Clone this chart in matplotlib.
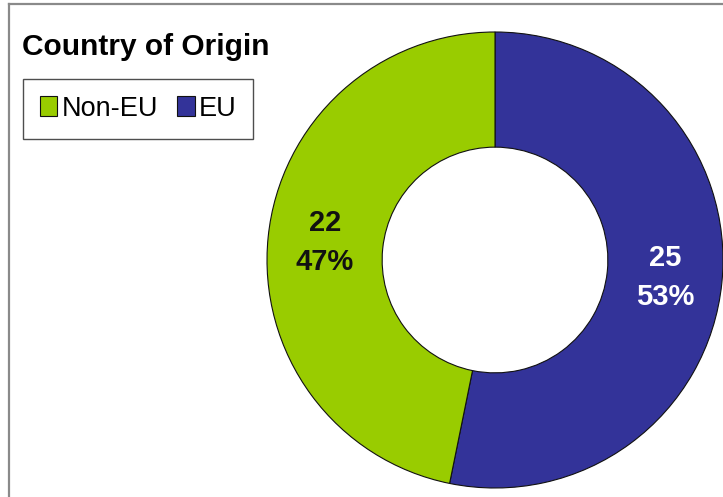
import matplotlib.pyplot as plt
from matplotlib.lines import Line2D

# origin breakdown
labels = ["Non-EU", "EU"]
counts = [22, 25]
colors = ["#99CC00", "#333399"]
label_colors = ["#111111", "white"]

W, H = 723, 497
fig = plt.figure(figsize=(W / 100, H / 100), dpi=100)
fig.patch.set_facecolor("white")

# donut: centre (495, 260) px, outer radius 228 px
cx, cy, R = 495, 260, 228
ax = fig.add_axes([(cx - R) / W, 1 - (cy + R) / H, 2 * R / W, 2 * R / H])

# EU first, clockwise from 12 o'clock; Non-EU fills the rest
order = [1, 0]
total = sum(counts)
wedges, texts, autotexts = ax.pie(
    [counts[i] for i in order],
    colors=[colors[i] for i in order],
    startangle=90,
    counterclock=False,
    radius=1.0,
    pctdistance=0.75,
    autopct=lambda p: "{0}\n{1:.0f}%".format(int(round(p * total / 100.0)), p),
    wedgeprops=dict(width=0.505, edgecolor="#111111", linewidth=0.8),
    textprops=dict(family="Liberation Sans", fontsize=21, fontweight="bold"),
)
for t, i in zip(autotexts, order):
    t.set_color(label_colors[i])
    t.set_linespacing(1.5)
ax.set_xlim(-1, 1)
ax.set_ylim(-1, 1)
ax.set_aspect("equal")
ax.axis("off")
for w in wedges:
    w.set_clip_on(False)

# title and legend
fig.text(22 / W, 1 - 55 / H, "Country of Origin", family="Liberation Sans",
         fontsize=21.5, fontweight="bold", ha="left", va="baseline")

handles = [wedges[order.index(i)] for i in range(len(labels))]
leg = fig.legend(handles, labels, ncol=2, loc="upper left",
                 bbox_to_anchor=(23 / W, 1 - 79 / H), borderaxespad=0,
                 prop=dict(family="Liberation Sans", size=19.5),
                 frameon=True, fancybox=False, edgecolor="#222222",
                 handlelength=0.65, handleheight=0.75, handletextpad=0.15,
                 columnspacing=0.7, borderpad=0.62)
leg.get_frame().set_linewidth(1.0)

# outer frame (top and left edges visible)
fig.add_artist(Line2D([9 / W, 9 / W], [0, 1 - 4 / H], color="#8a8a8a", lw=1.6))
fig.add_artist(Line2D([9 / W, 1], [1 - 4 / H, 1 - 4 / H], color="#8a8a8a", lw=1.6))

plt.savefig("out.png", dpi=100)
